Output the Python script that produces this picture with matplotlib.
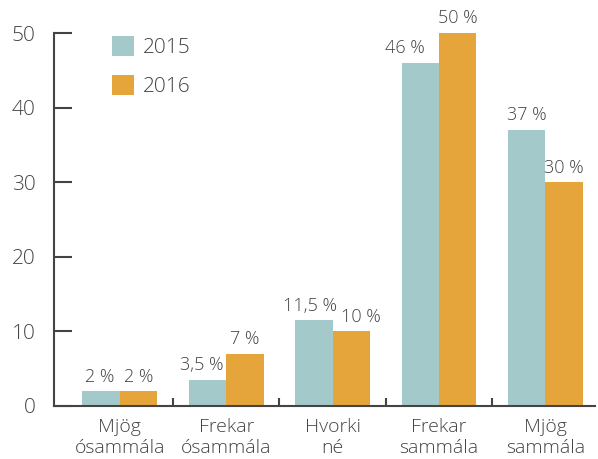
import matplotlib
matplotlib.use("Agg")
import matplotlib.pyplot as plt
import numpy as np

categories = ["Mjög\nósammála", "Frekar\nósammála", "Hvorki\nné", "Frekar\nsammála", "Mjög\nsammála"]
series_names = ["2015", "2016"]
values_2015 = [2, 3.5, 11.5, 46, 37]
values_2016 = [2, 7, 10, 50, 30]
labels_2015 = ["2 %", "3,5 %", "11,5 %", "46 %", "37 %"]
labels_2016 = ["2 %", "7 %", "10 %", "50 %", "30 %"]
yticks = [0, 10, 20, 30, 40, 50]

# label nudges in points (style only)
nudge_2015 = [-1, -4, -3, -11, 0]
nudge_2016 = [0, 0, 7, 0, 0]

c15 = "#a3c9cb"
c16 = "#e5a53a"
txt = "#444444"

plt.rcParams['font.family'] = ['Open Sans', 'DejaVu Sans']

fig = plt.figure(figsize=(5.98, 4.59), dpi=100)
ax = fig.add_axes([0.090, 0.1155, 0.905, 0.8125])

x = np.arange(len(categories))
w = 0.352
b1 = ax.bar(x - w/2, values_2015, w, color=c15, label=series_names[0])
b2 = ax.bar(x + w/2, values_2016, w, color=c16, label=series_names[1])

for bars, labs, nud in ((b1, labels_2015, nudge_2015), (b2, labels_2016, nudge_2016)):
    for rect, lab, dx in zip(bars, labs, nud):
        ax.annotate(lab, (rect.get_x() + rect.get_width()/2, rect.get_height()),
                    xytext=(dx, 4), textcoords='offset points',
                    ha='center', va='bottom', fontsize=13, color=txt,
                    fontweight='light', annotation_clip=False)

ax.set_xlim(-0.621, 4.467)
ax.set_ylim(0, 50)
ax.set_yticks(yticks)
ax.set_yticklabels([str(v) for v in yticks], fontsize=15, color=txt, fontweight='light')
ax.tick_params(axis='y', direction='in', length=13, width=1.5, color=txt, pad=13)

ax.set_xticks(x)
ax.set_xticklabels(categories, fontsize=14, color=txt, fontweight='light', linespacing=1.2)
ax.tick_params(axis='x', length=0, pad=9)
ax.set_xticks(np.arange(0.5, 4.0, 1.0), minor=True)
ax.tick_params(axis='x', which='minor', direction='in', length=6, width=1.5, color=txt)

for s in ['top', 'right']:
    ax.spines[s].set_visible(False)
for s in ['left', 'bottom']:
    ax.spines[s].set_color(txt)
    ax.spines[s].set_linewidth(1.5)

leg = ax.legend(loc='upper left', bbox_to_anchor=(0.072, 1.042), frameon=False,
                fontsize=15, handlelength=1.1, handleheight=1.1, labelspacing=0.8,
                handletextpad=0.4)
for t in leg.get_texts():
    t.set_color(txt)
    t.set_fontweight('light')

fig.savefig("out.png", dpi=100)
